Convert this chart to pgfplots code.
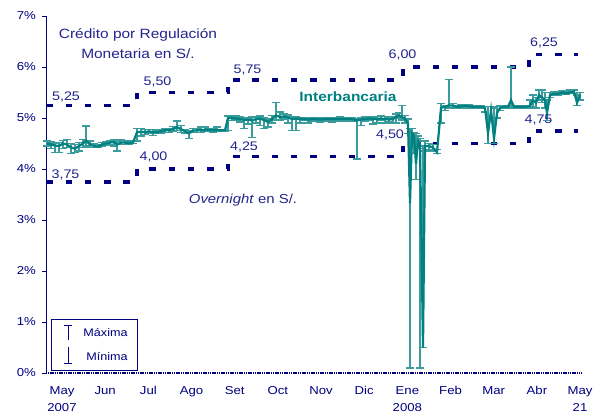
\documentclass[border=0pt]{standalone}
\usepackage{pgfplots}
\usepackage{pgfplotstable}
\pgfplotsset{compat=1.18}
\usepackage{fontspec}
\setmainfont{Liberation Sans}[FakeStretch=1.15]
\definecolor{navy}{RGB}{0,0,128}
\definecolor{navytxt}{RGB}{35,35,140}
\definecolor{tealline}{RGB}{0,128,128}
\definecolor{tealbar}{RGB}{60,155,155}

\pgfplotstableread{
d v hi lo
-10.5 4.50 4.55 4.45
-7.7 4.48 4.53 4.40
-4.9 4.46 4.50 4.32
-2.1 4.45 4.52 4.32
0.7 4.50 4.56 4.40
3.5 4.48 4.58 4.42
6.3 4.42 4.50 4.30
9.1 4.40 4.48 4.32
11.9 4.45 4.52 4.35
14.7 4.50 4.58 4.42
16.8 4.56 4.84 4.45
19.6 4.48 4.55 4.42
22.4 4.45 4.50 4.42
25.2 4.44 4.48 4.42
28.0 4.48 4.52 4.45
30.8 4.50 4.53 4.47
33.6 4.52 4.56 4.48
36.4 4.53 4.58 4.45
38.5 4.48 4.55 4.35
41.3 4.52 4.57 4.48
44.1 4.52 4.56 4.48
46.9 4.51 4.55 4.48
49.7 4.52 4.55 4.50
52.5 4.72 4.80 4.55
55.3 4.73 4.79 4.65
58.1 4.72 4.78 4.68
60.9 4.74 4.78 4.70
63.7 4.72 4.78 4.66
66.5 4.72 4.76 4.70
69.3 4.74 4.78 4.70
72.1 4.76 4.80 4.72
74.9 4.76 4.80 4.72
77.7 4.78 4.83 4.74
80.5 4.82 4.94 4.76
83.3 4.78 4.85 4.72
86.1 4.74 4.78 4.70
88.9 4.70 4.75 4.60
91.7 4.75 4.79 4.72
94.5 4.76 4.80 4.72
97.3 4.76 4.82 4.72
100.1 4.77 4.82 4.73
102.9 4.77 4.80 4.74
105.7 4.76 4.79 4.72
108.5 4.76 4.82 4.73
111.3 4.76 4.78 4.74
114.1 4.76 4.78 4.74
116.2 5.00 5.04 4.76
119.0 5.00 5.04 4.95
121.8 4.99 5.04 4.96
124.6 4.98 5.02 4.92
127.4 4.96 5.00 4.80
130.2 4.97 5.00 4.88
133.0 4.95 5.02 4.62
135.8 4.98 5.02 4.90
138.6 4.99 5.04 4.85
141.4 4.96 5.00 4.80
144.2 4.92 4.98 4.82
147.0 4.98 5.05 4.90
149.8 5.05 5.30 4.96
152.6 5.02 5.12 4.95
155.4 5.03 5.08 4.98
158.2 5.01 5.06 4.90
161.0 4.98 5.03 4.75
163.8 4.99 5.02 4.75
166.6 4.98 5.00 4.90
169.4 4.98 5.00 4.95
172.2 4.97 5.00 4.90
175.0 4.98 5.00 4.94
177.8 4.98 5.00 4.94
180.6 4.97 5.00 4.92
183.4 4.98 5.00 4.94
186.2 4.98 5.00 4.94
189.0 4.98 5.00 4.92
191.8 4.98 5.00 4.96
194.6 4.98 5.02 4.94
197.4 4.98 5.00 4.94
200.2 4.98 5.00 4.95
203.0 4.98 5.00 4.94
206.5 4.95 4.99 4.20
209.3 4.97 5.00 4.85
212.1 4.98 5.02 4.94
214.9 4.99 5.02 4.95
217.7 4.98 5.02 4.88
220.5 4.98 5.03 4.90
223.3 4.99 5.04 4.96
226.1 4.98 5.03 4.90
228.9 4.97 5.00 4.93
231.7 4.98 5.02 4.90
233.8 5.02 5.08 4.90
235.9 5.05 5.10 5.00
238.0 5.02 5.24 4.96
240.1 4.98 5.05 4.90
242.2 4.90 4.98 4.70
243.6 3.33 4.80 0.10
245.0 4.70 4.80 4.40
246.4 4.65 4.72 4.30
247.8 4.10 4.70 3.80
249.2 4.55 4.65 4.40
250.6 4.50 4.60 0.10
252.7 0.50 4.45 0.50
254.1 4.45 4.55 4.35
256.9 4.45 4.50 4.38
259.7 4.42 4.48 4.35
262.5 4.33 4.38 4.30
265.3 5.20 5.28 4.90
268.1 5.22 5.25 5.15
270.9 5.25 5.75 5.20
273.7 5.24 5.28 5.20
276.5 5.22 5.25 5.20
279.3 5.23 5.26 5.20
282.1 5.24 5.27 5.20
284.9 5.23 5.26 5.20
287.7 5.22 5.25 5.20
290.5 5.22 5.24 5.20
293.3 5.22 5.24 5.19
296.1 5.20 5.23 5.12
298.2 4.70 5.22 4.50
300.3 5.15 5.22 4.95
302.4 4.60 5.20 4.50
304.5 5.10 5.22 5.00
306.6 5.20 5.24 5.15
309.4 5.22 5.24 5.20
312.2 5.22 5.25 5.20
314.3 5.35 6.00 5.22
316.4 5.22 5.25 5.20
319.2 5.22 5.24 5.20
322.0 5.22 5.24 5.20
324.8 5.22 5.24 5.20
327.6 5.24 5.35 5.20
329.7 5.35 5.45 5.22
331.8 5.30 5.40 5.20
333.9 5.45 5.55 5.35
336.0 5.40 5.55 5.30
338.1 5.35 5.50 5.20
339.5 5.10 5.35 4.95
341.6 5.45 5.50 5.40
344.4 5.48 5.52 5.45
347.2 5.47 5.50 5.45
350.0 5.50 5.53 5.48
352.8 5.48 5.52 5.46
355.6 5.50 5.55 5.48
358.4 5.52 5.55 5.48
360.5 5.30 5.45 5.25
362.6 5.45 5.50 5.35
}\ib

\begin{document}
\begin{tikzpicture}[x=1bp,y=1bp]
\begin{axis}[
  at={(46bp,41bp)}, anchor=south west,
  scale only axis, width=536bp, height=357bp,
  xmin=-11.2, xmax=364, ymin=0, ymax=7,
  axis lines*=left,
  axis line style={-},
  x axis line style={navy, line width=2bp, dash pattern=on 1.2bp off 0.6bp},
  y axis line style={navy, line width=1bp},
  ytick={0,1,2,3,4,5,6,7},
  yticklabels={0\%,1\%,2\%,3\%,4\%,5\%,6\%,7\%},
  xtick={0,30.22,60.44,90.66,120.88,151.1,181.32,211.54,241.76,271.98,302.2,332.42,362.64},
  xticklabels={{May\\2007},Jun,Jul,Ago,Set,Oct,Nov,Dic,{Ene\\2008},Feb,Mar,Abr,{May\\21}},
  x tick style={draw=none},
  y tick style={navy, line width=0.8bp},
  tick align=outside,
  major tick length=4bp,
  tick label style={font=\fontsize{11.5}{17}\selectfont, text=navy},
  xticklabel style={align=center, anchor=north, inner sep=0pt, yshift=-9bp},
  yticklabel style={anchor=east, inner sep=0pt, xshift=-6bp},
  clip=false,
]
% corridor lines
\addplot[navy, line width=3.5bp, dash pattern=on 6.5bp off 12.8bp]
  coordinates {(-11,5.25) (52.5,5.25) (52.5,5.50) (116.2,5.50) (116.2,5.75) (238.7,5.75) (238.7,6.00) (326.9,6.00) (326.9,6.25) (361,6.25)};
\addplot[navy, line width=3.5bp, dash pattern=on 6.5bp off 12.8bp]
  coordinates {(-11,3.75) (52.5,3.75) (52.5,4.00) (116.2,4.00) (116.2,4.25) (238.7,4.25) (238.7,4.50) (326.9,4.50) (326.9,4.75) (361,4.75)};
% max/min bars
\addplot[draw=none, mark=none,
  error bars/.cd, y dir=both, y explicit,
  error bar style={draw=tealbar, line width=1.4bp, solid},
  error mark options={draw=tealbar, rotate=90, mark size=4bp, line width=1.4bp, solid}]
  table[x=d, y=v, y error plus expr=\thisrow{hi}-\thisrow{v}, y error minus expr=\thisrow{v}-\thisrow{lo}] {\ib};
% interbank rate
\addplot[tealline, line width=2.2bp, mark=none] table[x=d, y=v] {\ib};
\end{axis}

% annotations
\begin{scope}[every node/.style={inner sep=0pt}]
\node[text=navytxt, font=\fontsize{13.5}{15}\selectfont] at (138,379) {Crédito por Regulación};
\node[text=navytxt, font=\fontsize{13.5}{15}\selectfont] at (138,360) {Monetaria en S/.};
\node[text=navytxt, font=\fontsize{13}{15}\selectfont] at (243,214) {\textit{Overnight} en S/.};
\node[text=tealline, font=\fontsize{13.5}{15}\selectfont\bfseries] at (348,317) {Interbancaria};
\foreach \t/\px/\py in {{5,25}/66/317, {3,75}/65.5/239, {5,50}/157.5/332, {4,00}/153.5/257, {5,75}/247.5/344, {4,25}/244/267, {6,00}/402.5/359, {6,25}/544/371, {4,50}/390/279, {4,75}/538.5/294}
  \node[text=navytxt, font=\fontsize{12.5}{14}\selectfont] at (\px,\py) {\t};
% legend
\draw[navy, line width=0.8bp] (51,44) rectangle (137,95);
\draw[navy, line width=0.9bp] (68,74) -- (68,89) (64,89) -- (72,89);
\draw[navy, line width=0.9bp] (68,67) -- (68,51) (64,51) -- (72,51);
\node[text=navy, font=\fontsize{11}{13}\selectfont] at (105.5,81) {Máxima};
\node[text=navy, font=\fontsize{11}{13}\selectfont] at (107,57) {Mínima};
\end{scope}
\pgfresetboundingbox
\useasboundingbox (0,0) rectangle (600,414);
\end{tikzpicture}
\end{document}
